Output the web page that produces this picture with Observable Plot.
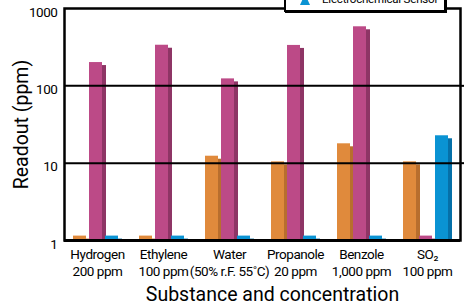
<!DOCTYPE html>
<html>
<head>
<meta charset="utf-8">
<script src="https://cdn.jsdelivr.net/npm/d3@7"></script>
<script src="https://cdn.jsdelivr.net/npm/@observablehq/plot@0.6"></script>
<style>
  body { margin: 0; background: #fff; }
  #wrap { position: relative; width: 470px; height: 306px; overflow: hidden;
          font-family: Roboto, "Liberation Sans", sans-serif; }
  #legend { position: absolute; left: 284px; top: -30px; width: 158px; height: 38px;
            border: 2px solid #000; background: #fff; box-shadow: 1px 1px 0 #000; overflow: hidden; }
  #legend .row { position: absolute; left: 14px; bottom: 4px; height: 14px; display: flex; align-items: center; }
  #legend .tri { width: 0; height: 0; border-left: 5px solid transparent; border-right: 5px solid transparent;
                 border-bottom: 11px solid #0a93d3; margin-right: 12px; }
  #legend .txt { font-size: 11.5px; letter-spacing: -0.2px; color: #000; white-space: nowrap; }
  #chart svg text { letter-spacing: -0.45px; }
  #chart svg g[aria-label="y-axis label"] text { font-size: 19.5px; letter-spacing: 0; }
  #chart svg text.xlabel, #chart svg g.xlabel text { letter-spacing: 0; }
</style>
</head>
<body>
<div id="wrap">
  <div id="chart"></div>
  <div id="legend"><div class="row"><div class="tri"></div><span class="txt">Electrochemical Sensor</span></div></div>
</div>
<script>
const categories = ["Hydrogen", "Ethylene", "Water", "Propanole", "Benzole", "SO₂"];
const concentrations = ["200 ppm", "100 ppm", "(50% r.F. 55˚C)", "20 ppm", "1,000 ppm", "100 ppm"];
const seriesNames = ["Sensor A", "Sensor B", "Electrochemical Sensor"];
const seriesA = [1.14, 1.14, 12.3, 10.4, 17.8, 10.4];
const seriesB = [200, 335, 123, 333, 580, 1.14];
const seriesC = [1.14, 1.14, 1.14, 1.14, 1.14, 22.6];
const yTicks = [1, 5, 10, 50, 100, 500, 1000];
const gridValues = [10, 100];
const xTitle = "Substance and concentration";
const yTitle = "Readout (ppm)";
const frontColors = ["#e08a3c", "#bc4a87", "#0a93d3"];
const sideColors = ["#b86e2e", "#8e3565", "#0670a8"];

const allValues = [seriesA, seriesB, seriesC];
const data = [];
categories.forEach((c, i) => {
  seriesNames.forEach((s, j) => data.push({cat: c, series: s, value: allValues[j][i]}));
});

const chart = Plot.plot({
  width: 470,
  height: 306,
  marginLeft: 61,
  marginRight: 8,
  marginTop: 8,
  marginBottom: 66,
  style: {fontFamily: "Roboto, \"Liberation Sans\", sans-serif", fontSize: "13.5px", color: "#000", background: "transparent"},
  fx: {domain: categories, padding: 0},
  x: {domain: seriesNames, paddingInner: 0.176, paddingOuter: 0.553, align: 0.425, axis: null},
  y: {type: "log", domain: [1, 1000]},
  color: {domain: seriesNames, range: frontColors},
  marks: [
    Plot.barY(data, {fx: "cat", x: "series", y1: 1, y2: "value",
      fill: d => sideColors[seriesNames.indexOf(d.series)], insetLeft: 8, dx: 4, dy: 3, insetBottom: 3}),
    Plot.barY(data, {fx: "cat", x: "series", y1: 1, y2: "value", fill: "series"}),
    Plot.ruleY(gridValues, {stroke: "#000", strokeWidth: 2}),
    Plot.frame({facet: "super", stroke: "#000", strokeWidth: 2.5}),
    Plot.ruleY([1], {stroke: "#000", strokeWidth: 3}),
    Plot.axisY({anchor: "left", ticks: yTicks, tickSize: 0, tickPadding: 7, dy: 4,
      tickFormat: d => String(d), label: null}),
    Plot.axisY({anchor: "left", ticks: [], tickSize: 0,
      label: yTitle, labelAnchor: "center", labelArrow: "none", labelOffset: 50}),
    Plot.axisY({anchor: "right", ticks: gridValues, tickSize: 3, strokeWidth: 2,
      tickFormat: () => "", label: null}),
    Plot.axisFx({anchor: "bottom", tickSize: 0, tickPadding: 7, lineHeight: 1.25,
      tickFormat: (c) => c + "\n" + concentrations[categories.indexOf(c)], label: null}),
    Plot.text([xTitle], {facet: "super", frameAnchor: "bottom", text: d => d, dx: 10, dy: 54,
      lineAnchor: "middle", fontSize: 19.5, className: "xlabel"})
  ]
});
document.getElementById("chart").appendChild(chart);
</script>
</body>
</html>
